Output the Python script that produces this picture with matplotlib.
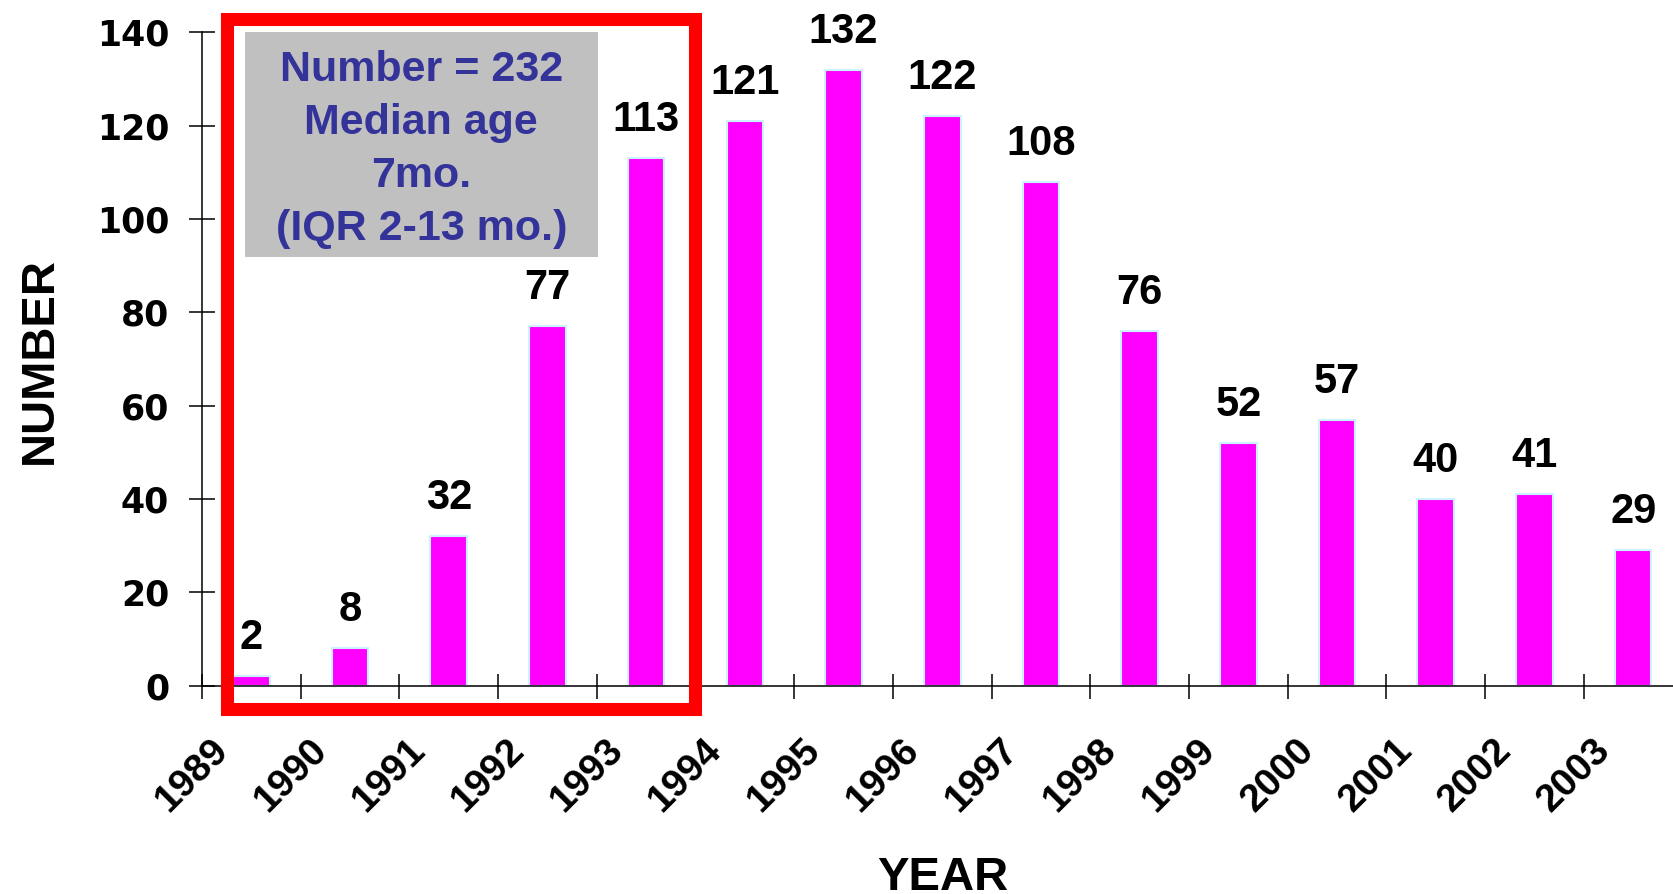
import numpy as np
import matplotlib
matplotlib.use('Agg')
import matplotlib.pyplot as plt
from matplotlib.patches import Rectangle
from matplotlib.transforms import ScaledTranslation

plt.rcParams['font.family'] = ['Liberation Sans', 'DejaVu Sans']

# cases per year
years   = ['1989', '1990', '1991', '1992', '1993', '1994', '1995', '1996',
           '1997', '1998', '1999', '2000', '2001', '2002', '2003']
counts  = [2, 8, 32, 77, 113, 121, 132, 122, 108, 76, 52, 57, 40, 41, 29]
y_ticks = [0, 20, 40, 60, 80, 100, 120, 140]

box_text = 'Number = 232\nMedian age\n7mo.\n(IQR 2-13 mo.)'


fig = plt.figure(figsize=(16.73, 8.94), dpi=100)
ax  = fig.add_axes([202/1673, 208.4/894, 1480.5/1673, 653.3/894])

x = np.arange(len(years))
ax.bar(x, counts, width=0.37, color='#FF00FF', edgecolor='#CCF2FF', linewidth=1.5, zorder=2)

for xi, c in zip(x, counts):
    ax.annotate(str(c), (xi, c), xytext=(0, 19.5), textcoords='offset points',
                ha='center', va='baseline', fontsize=30, fontweight='bold',
                annotation_clip=False)

ax.set_xlim(-0.5, 14.5)
ax.set_ylim(0, 140)

# year labels sit on the category boundaries
ax.set_xticks(x - 0.5, years, rotation=45, ha='right', va='top', rotation_mode='anchor',
              fontsize=28, fontweight='bold')
ax.set_yticks(y_ticks, [str(v) for v in y_ticks], fontsize=25, fontweight='bold',
              family='DejaVu Sans')
ax.tick_params(axis='x', direction='inout', length=18, width=1.1, pad=24.5)
ax.tick_params(axis='y', direction='inout', length=19.4, width=1.1, pad=14)

# nudge the rotated year labels a bit to the right
shift = ScaledTranslation(8/100, 0, fig.dpi_scale_trans)
for lab in ax.get_xticklabels():
    lab.set_transform(lab.get_transform() + shift)

for s in ['top', 'right']:
    ax.spines[s].set_visible(False)
for s in ['left', 'bottom']:
    ax.spines[s].set_linewidth(1.1)

# highlight of the first five years
ax.add_patch(Rectangle((-0.247, -5.06), 4.745, 147.92, fill=False, edgecolor='#FF0000',
                       linewidth=9.4, joinstyle='miter', clip_on=False, zorder=5))

ax.add_patch(Rectangle((-0.064, 91.9), 3.573, 48.1, facecolor='#C0C0C0', edgecolor='none',
                       clip_on=False, zorder=3))
ax.text((-0.064 + 3.509) / 2, 114.8, box_text, ha='center', va='center', color='#333399',
        fontsize=31, fontweight='bold', linespacing=1.42, zorder=4)

fig.text(40/1673, (894 - 360)/894, 'NUMBER', rotation=90, ha='center', va='center',
         fontsize=34, fontweight='bold')
fig.text(943/1673, 3.5/894, 'YEAR', ha='center', va='baseline', fontsize=34, fontweight='bold')

fig.savefig('out.png', dpi=100)
